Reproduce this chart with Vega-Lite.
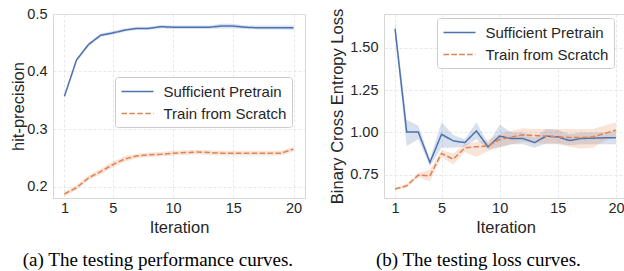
{
  "$schema": "https://vega.github.io/schema/vega-lite/v6.json",
  "padding": {"left": 10, "top": 5, "right": 0, "bottom": 0},
  "background": "white",
  "datasets": {
    "perf": [
      {"it": 1, "series": "Sufficient Pretrain", "mean": 0.357, "lo": 0.354, "hi": 0.360},
      {"it": 2, "series": "Sufficient Pretrain", "mean": 0.420, "lo": 0.417, "hi": 0.423},
      {"it": 3, "series": "Sufficient Pretrain", "mean": 0.447, "lo": 0.444, "hi": 0.450},
      {"it": 4, "series": "Sufficient Pretrain", "mean": 0.463, "lo": 0.460, "hi": 0.466},
      {"it": 5, "series": "Sufficient Pretrain", "mean": 0.467, "lo": 0.464, "hi": 0.470},
      {"it": 6, "series": "Sufficient Pretrain", "mean": 0.472, "lo": 0.469, "hi": 0.475},
      {"it": 7, "series": "Sufficient Pretrain", "mean": 0.475, "lo": 0.472, "hi": 0.478},
      {"it": 8, "series": "Sufficient Pretrain", "mean": 0.475, "lo": 0.472, "hi": 0.478},
      {"it": 9, "series": "Sufficient Pretrain", "mean": 0.478, "lo": 0.475, "hi": 0.481},
      {"it": 10, "series": "Sufficient Pretrain", "mean": 0.477, "lo": 0.474, "hi": 0.480},
      {"it": 11, "series": "Sufficient Pretrain", "mean": 0.477, "lo": 0.474, "hi": 0.480},
      {"it": 12, "series": "Sufficient Pretrain", "mean": 0.477, "lo": 0.474, "hi": 0.480},
      {"it": 13, "series": "Sufficient Pretrain", "mean": 0.477, "lo": 0.474, "hi": 0.480},
      {"it": 14, "series": "Sufficient Pretrain", "mean": 0.479, "lo": 0.475, "hi": 0.483},
      {"it": 15, "series": "Sufficient Pretrain", "mean": 0.479, "lo": 0.475, "hi": 0.483},
      {"it": 16, "series": "Sufficient Pretrain", "mean": 0.477, "lo": 0.474, "hi": 0.480},
      {"it": 17, "series": "Sufficient Pretrain", "mean": 0.476, "lo": 0.473, "hi": 0.480},
      {"it": 18, "series": "Sufficient Pretrain", "mean": 0.476, "lo": 0.473, "hi": 0.480},
      {"it": 19, "series": "Sufficient Pretrain", "mean": 0.476, "lo": 0.473, "hi": 0.480},
      {"it": 20, "series": "Sufficient Pretrain", "mean": 0.476, "lo": 0.472, "hi": 0.480},
      {"it": 1, "series": "Train from Scratch", "mean": 0.187, "lo": 0.183, "hi": 0.191},
      {"it": 2, "series": "Train from Scratch", "mean": 0.198, "lo": 0.194, "hi": 0.202},
      {"it": 3, "series": "Train from Scratch", "mean": 0.215, "lo": 0.211, "hi": 0.219},
      {"it": 4, "series": "Train from Scratch", "mean": 0.226, "lo": 0.221, "hi": 0.231},
      {"it": 5, "series": "Train from Scratch", "mean": 0.238, "lo": 0.233, "hi": 0.243},
      {"it": 6, "series": "Train from Scratch", "mean": 0.248, "lo": 0.243, "hi": 0.253},
      {"it": 7, "series": "Train from Scratch", "mean": 0.253, "lo": 0.249, "hi": 0.257},
      {"it": 8, "series": "Train from Scratch", "mean": 0.255, "lo": 0.251, "hi": 0.259},
      {"it": 9, "series": "Train from Scratch", "mean": 0.256, "lo": 0.252, "hi": 0.260},
      {"it": 10, "series": "Train from Scratch", "mean": 0.258, "lo": 0.254, "hi": 0.262},
      {"it": 11, "series": "Train from Scratch", "mean": 0.259, "lo": 0.255, "hi": 0.263},
      {"it": 12, "series": "Train from Scratch", "mean": 0.260, "lo": 0.256, "hi": 0.264},
      {"it": 13, "series": "Train from Scratch", "mean": 0.259, "lo": 0.255, "hi": 0.263},
      {"it": 14, "series": "Train from Scratch", "mean": 0.258, "lo": 0.254, "hi": 0.262},
      {"it": 15, "series": "Train from Scratch", "mean": 0.258, "lo": 0.254, "hi": 0.262},
      {"it": 16, "series": "Train from Scratch", "mean": 0.258, "lo": 0.254, "hi": 0.262},
      {"it": 17, "series": "Train from Scratch", "mean": 0.258, "lo": 0.254, "hi": 0.262},
      {"it": 18, "series": "Train from Scratch", "mean": 0.258, "lo": 0.254, "hi": 0.262},
      {"it": 19, "series": "Train from Scratch", "mean": 0.258, "lo": 0.254, "hi": 0.262},
      {"it": 20, "series": "Train from Scratch", "mean": 0.265, "lo": 0.261, "hi": 0.269}
    ],
    "loss": [
      {"it": 1, "series": "Sufficient Pretrain", "mean": 1.612, "lo": 1.575, "hi": 1.655},
      {"it": 2, "series": "Sufficient Pretrain", "mean": 1.003, "lo": 0.920, "hi": 1.075},
      {"it": 3, "series": "Sufficient Pretrain", "mean": 1.003, "lo": 0.960, "hi": 1.040},
      {"it": 4, "series": "Sufficient Pretrain", "mean": 0.823, "lo": 0.800, "hi": 0.845},
      {"it": 5, "series": "Sufficient Pretrain", "mean": 0.989, "lo": 0.910, "hi": 1.060},
      {"it": 6, "series": "Sufficient Pretrain", "mean": 0.950, "lo": 0.910, "hi": 0.985},
      {"it": 7, "series": "Sufficient Pretrain", "mean": 0.940, "lo": 0.915, "hi": 0.960},
      {"it": 8, "series": "Sufficient Pretrain", "mean": 1.009, "lo": 0.960, "hi": 1.060},
      {"it": 9, "series": "Sufficient Pretrain", "mean": 0.915, "lo": 0.900, "hi": 0.935},
      {"it": 10, "series": "Sufficient Pretrain", "mean": 0.978, "lo": 0.915, "hi": 1.045},
      {"it": 11, "series": "Sufficient Pretrain", "mean": 0.964, "lo": 0.930, "hi": 1.000},
      {"it": 12, "series": "Sufficient Pretrain", "mean": 0.964, "lo": 0.930, "hi": 1.000},
      {"it": 13, "series": "Sufficient Pretrain", "mean": 0.940, "lo": 0.910, "hi": 0.970},
      {"it": 14, "series": "Sufficient Pretrain", "mean": 0.978, "lo": 0.935, "hi": 1.020},
      {"it": 15, "series": "Sufficient Pretrain", "mean": 0.974, "lo": 0.935, "hi": 1.015},
      {"it": 16, "series": "Sufficient Pretrain", "mean": 0.952, "lo": 0.925, "hi": 0.990},
      {"it": 17, "series": "Sufficient Pretrain", "mean": 0.964, "lo": 0.930, "hi": 1.000},
      {"it": 18, "series": "Sufficient Pretrain", "mean": 0.966, "lo": 0.930, "hi": 1.000},
      {"it": 19, "series": "Sufficient Pretrain", "mean": 0.968, "lo": 0.930, "hi": 1.000},
      {"it": 20, "series": "Sufficient Pretrain", "mean": 0.968, "lo": 0.930, "hi": 1.000},
      {"it": 1, "series": "Train from Scratch", "mean": 0.666, "lo": 0.660, "hi": 0.672},
      {"it": 2, "series": "Train from Scratch", "mean": 0.685, "lo": 0.675, "hi": 0.695},
      {"it": 3, "series": "Train from Scratch", "mean": 0.748, "lo": 0.735, "hi": 0.760},
      {"it": 4, "series": "Train from Scratch", "mean": 0.744, "lo": 0.710, "hi": 0.780},
      {"it": 5, "series": "Train from Scratch", "mean": 0.876, "lo": 0.855, "hi": 0.895},
      {"it": 6, "series": "Train from Scratch", "mean": 0.842, "lo": 0.810, "hi": 0.875},
      {"it": 7, "series": "Train from Scratch", "mean": 0.909, "lo": 0.885, "hi": 0.930},
      {"it": 8, "series": "Train from Scratch", "mean": 0.915, "lo": 0.855, "hi": 0.945},
      {"it": 9, "series": "Train from Scratch", "mean": 0.921, "lo": 0.890, "hi": 0.955},
      {"it": 10, "series": "Train from Scratch", "mean": 0.958, "lo": 0.910, "hi": 0.990},
      {"it": 11, "series": "Train from Scratch", "mean": 0.972, "lo": 0.930, "hi": 1.010},
      {"it": 12, "series": "Train from Scratch", "mean": 0.986, "lo": 0.945, "hi": 1.025},
      {"it": 13, "series": "Train from Scratch", "mean": 0.982, "lo": 0.940, "hi": 1.020},
      {"it": 14, "series": "Train from Scratch", "mean": 0.978, "lo": 0.930, "hi": 1.020},
      {"it": 15, "series": "Train from Scratch", "mean": 0.974, "lo": 0.930, "hi": 1.020},
      {"it": 16, "series": "Train from Scratch", "mean": 0.970, "lo": 0.915, "hi": 1.020},
      {"it": 17, "series": "Train from Scratch", "mean": 0.970, "lo": 0.905, "hi": 1.020},
      {"it": 18, "series": "Train from Scratch", "mean": 0.974, "lo": 0.910, "hi": 1.020},
      {"it": 19, "series": "Train from Scratch", "mean": 0.993, "lo": 0.950, "hi": 1.040},
      {"it": 20, "series": "Train from Scratch", "mean": 1.013, "lo": 0.975, "hi": 1.060}
    ]
  },
  "config": {
    "font": "Liberation Sans",
    "view": {"stroke": "#d6d6d6", "strokeWidth": 1},
    "axis": {
      "domain": false, "ticks": false, "tickSize": 0,
      "labelFontSize": 14.5, "titleFontSize": 16.5,
      "labelColor": "#262626", "titleColor": "#262626", "titleFontWeight": "normal",
      "gridColor": "#e2e2e2", "gridDash": [3, 2], "gridWidth": 0.8,
      "labelPadding": 6, "titlePadding": 4
    },
    "axisX": {"labelPadding": 3, "titlePadding": 5},
    "legend": {
      "symbolType": "M-2,0H2", "symbolSize": 256, "symbolStrokeWidth": 1.5, "symbolOffset": 8,
      "labelFontSize": 15, "labelColor": "#262626", "labelOffset": 17,
      "fillColor": "white", "strokeColor": "#cccccc", "cornerRadius": 3,
      "padding": 5.5, "rowPadding": 5
    },
    "title": {"font": "Liberation Serif", "fontSize": 19, "fontWeight": "normal", "color": "#000000", "orient": "bottom", "offset": 15, "frame": "bounds", "anchor": "middle"}
  },
  "spacing": 23,
  "resolve": {"legend": {"color": "independent", "strokeDash": "independent"}},
  "hconcat": [
    {
      "width": 252, "height": 184,
      "title": {"text": "(a)  The testing performance curves.", "orient": "bottom", "frame": "bounds"},
      "data": {"name": "perf"},
      "layer": [
        {
          "mark": {"type": "area", "opacity": 0.22, "clip": true},
          "encoding": {
            "x": {"field": "it", "type": "quantitative", "scale": {"domain": [0.05, 20.95], "nice": false, "zero": false}, "axis": {"values": [1, 5, 10, 15, 20], "title": "Iteration"}},
            "y": {"field": "lo", "type": "quantitative", "scale": {"domain": [0.18, 0.5], "nice": false, "zero": false}, "axis": {"values": [0.2, 0.3, 0.4, 0.5], "format": ".1f", "title": "hit-precision", "titlePadding": 0}},
            "y2": {"field": "hi"},
            "fill": {"field": "series", "type": "nominal", "scale": {"domain": ["Sufficient Pretrain", "Train from Scratch"], "range": ["#4c72b0", "#dd8452"]}, "legend": null}
          }
        },
        {
          "mark": {"type": "line", "strokeWidth": 1.5, "clip": true},
          "encoding": {
            "x": {"field": "it", "type": "quantitative"},
            "y": {"field": "mean", "type": "quantitative"},
            "color": {"field": "series", "type": "nominal", "scale": {"domain": ["Sufficient Pretrain", "Train from Scratch"], "range": ["#4c72b0", "#dd8452"]}, "legend": {"title": null, "orient": "none", "legendX": 62, "legendY": 63}},
            "strokeDash": {"field": "series", "type": "nominal", "scale": {"domain": ["Sufficient Pretrain", "Train from Scratch"], "range": [[1, 0], [5.5, 2.4]]}, "legend": {"title": null, "orient": "none", "legendX": 62, "legendY": 63}}
          }
        }
      ]
    },
    {
      "width": 243, "height": 184,
      "title": {"text": "(b)  The testing loss curves.", "orient": "bottom", "frame": "bounds"},
      "data": {"name": "loss"},
      "layer": [
        {
          "mark": {"type": "area", "opacity": 0.22, "clip": true},
          "encoding": {
            "x": {"field": "it", "type": "quantitative", "scale": {"domain": [0.05, 20.95], "nice": false, "zero": false}, "axis": {"values": [1, 5, 10, 15, 20], "title": "Iteration"}},
            "y": {"field": "lo", "type": "quantitative", "scale": {"domain": [0.613, 1.699], "nice": false, "zero": false}, "axis": {"values": [0.75, 1.0, 1.25, 1.5], "format": ".2f", "title": "Binary Cross Entropy Loss", "titlePadding": 4}},
            "y2": {"field": "hi"},
            "fill": {"field": "series", "type": "nominal", "scale": {"domain": ["Sufficient Pretrain", "Train from Scratch"], "range": ["#4c72b0", "#dd8452"]}, "legend": null}
          }
        },
        {
          "mark": {"type": "line", "strokeWidth": 1.5, "clip": true},
          "encoding": {
            "x": {"field": "it", "type": "quantitative"},
            "y": {"field": "mean", "type": "quantitative"},
            "color": {"field": "series", "type": "nominal", "scale": {"domain": ["Sufficient Pretrain", "Train from Scratch"], "range": ["#4c72b0", "#dd8452"]}, "legend": {"title": null, "orient": "none", "legendX": 53, "legendY": 4}},
            "strokeDash": {"field": "series", "type": "nominal", "scale": {"domain": ["Sufficient Pretrain", "Train from Scratch"], "range": [[1, 0], [5.5, 2.4]]}, "legend": {"title": null, "orient": "none", "legendX": 53, "legendY": 4}}
          }
        }
      ]
    }
  ]
}
